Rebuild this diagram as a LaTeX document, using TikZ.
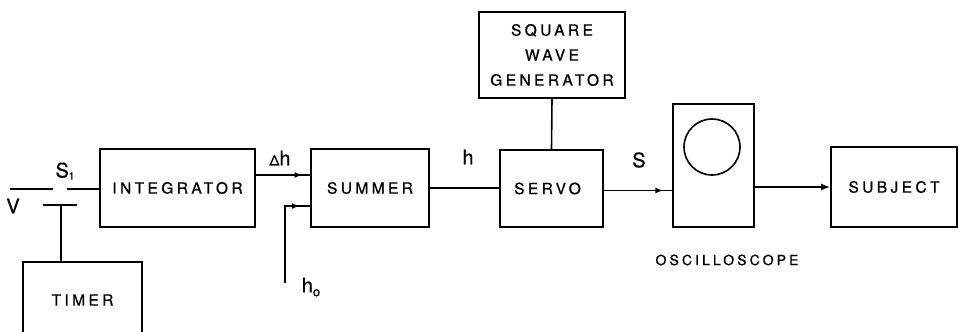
\documentclass[tikz,border=0pt]{standalone}
\usepackage{fontspec}
\setmainfont{TeX Gyre Heros}[FakeBold=0.6]
\newfontfamily\lettering{TeX Gyre Heros}[LetterSpace=22, FakeBold=0.8]
\usetikzlibrary{arrows.meta,decorations.markings}

\tikzset{
  blk/.style={draw, line width=1.7pt, inner sep=0pt, align=center,
              font=\lettering\fontsize{15.5}{25}\selectfont},
  wire/.style={line width=1.6pt},
  sig/.style={font=\fontsize{20}{20}\selectfont, inner sep=0pt},
  tipat/.style={postaction=decorate, decoration={markings,
      mark=at position #1 with {\arrow{Latex[length=8pt,width=6pt]}}}},
}

\begin{document}
\begin{tikzpicture}[x=1pt, y=-1pt]
\clip (0,0) rectangle (962,332);
\useasboundingbox (0,0) rectangle (962,332);

% blocks
\node[blk, minimum width=155pt, minimum height=78pt] (integ) at (177.5,188) {INTEGRATOR};
\node[blk, minimum width=118pt, minimum height=78pt] (summer) at (370,188) {SUMMER};
\node[blk, minimum width=103pt, minimum height=77pt] (servo) at (551.5,188.5) {SERVO\hspace*{8pt}};
\node[blk, minimum width=146pt, minimum height=86pt] (sqw) at (552,55) {SQUARE\\WAVE\\GENERATOR};
\node[blk, minimum width=81pt, minimum height=123pt] (osc) at (713.5,165.5) {};
\node[blk, minimum width=126pt, minimum height=80pt] (subject) at (894,187) {SUBJECT};
\node[blk, minimum width=119pt, minimum height=76pt] (timer) at (82.5,300) {TIMER};

% oscilloscope screen and caption
\draw[wire] (712,147) circle (28);
\node[font=\lettering\fontsize{14}{14}\selectfont, inner sep=0pt] (osclab) at (727,260) {OSCILLOSCOPE};

% switch S1 with its contact bar
\coordinate (vin) at (10,189);
\coordinate (swa) at (53,189);
\coordinate (swb) at (67,189);
\coordinate (cba) at (43,205);
\coordinate (cbb) at (77,205);
\coordinate (cbm) at (61,205);
\draw[wire] (vin) -- (swa);
\draw[wire] (swb) -- (swb -| integ.west);
\draw[wire] (cba) -- (cbb);
\draw[wire] (cbm) -- (cbm |- timer.north);

% signal paths
\draw[wire, tipat=0.86] ([yshift=13pt]integ.east) -- ([yshift=13pt]summer.west);
\coordinate (h0) at (285,283);
\draw[wire, tipat=0.9] (h0) |- ([yshift=-18pt]summer.west);
\draw[wire] (summer.east) -- (summer.east -| servo.west);
\draw[wire] (sqw.south) -- (servo.north);
\draw[wire, tipat=0.87] ([yshift=-2pt]servo.east) -- ([yshift=-2pt]servo.east -| osc.west);
\draw[wire, -{Latex[length=9pt,width=7pt]}] (subject.west -| osc.east) -- (subject.west);

% signal labels
\node[sig] (lv) at (13,206) {V};
\node[sig] (ls1) at (65,171) {S\raisebox{-2pt}{\fontsize{10}{10}\selectfont 1}};
\node[sig] (ldh) at (280,158) {{\fontsize{14}{14}\selectfont Δ}h};
\node[sig] (lh) at (468,157) {h};
\node[sig] (lh0) at (311,287) {h\raisebox{-4pt}{\fontsize{13}{13}\selectfont o}};
\node[sig] (ls) at (639,160) {S};
\end{tikzpicture}
\end{document}
